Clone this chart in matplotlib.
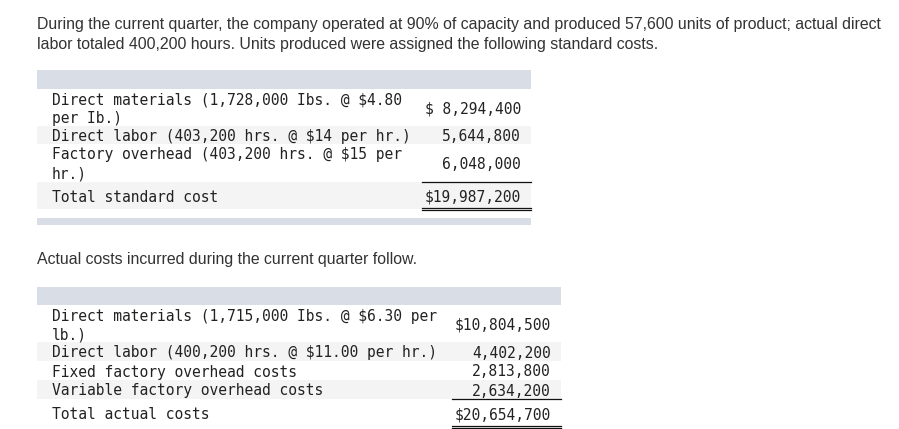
import matplotlib.pyplot as plt
from matplotlib.patches import Rectangle

# --------------------------
# TEXT + DATA
# --------------------------
intro_lines = [
    "During the current quarter, the company operated at 90% of capacity and produced 57,600 units of product; actual direct",
    "labor totaled 400,200 hours. Units produced were assigned the following standard costs.",
]
middle_line = "Actual costs incurred during the current quarter follow."

std_labels = [
    "Direct materials (1,728,000 Ibs. @ $4.80\nper Ib.)",
    "Direct labor (403,200 hrs. @ $14 per hr.)",
    "Factory overhead (403,200 hrs. @ $15 per\nhr.)",
    "Total standard cost",
]
std_costs = [8294400, 5644800, 6048000, 19987200]
std_dollar = [True, False, False, True]

act_labels = [
    "Direct materials (1,715,000 Ibs. @ $6.30 per\nlb.)",
    "Direct labor (400,200 hrs. @ $11.00 per hr.)",
    "Fixed factory overhead costs",
    "Variable factory overhead costs",
    "Total actual costs",
]
act_costs = [10804500, 4402200, 2813800, 2634200, 20654700]
act_dollar = [True, False, False, False, True]

# --------------------------
# STYLE
# --------------------------
HEAD_BG = "#d9dde6"
ROW_BG = "#f4f4f4"
TXT = "#222222"
MONO = "DejaVu Sans Mono"
MONO_SIZE = 10.55
LINE_PITCH = 18.6
DY = 1.5  # small nudge so text centres match the reference


def fmt(v, dollar):
    s = f"{v:,}"
    if dollar:
        return "$" + s.rjust(10)
    return s


def draw_table(ax, labels, costs, dollars, head_top, head_bot, edges,
               x0, x1, value_x, rule_x0, bottom_bar=None):
    ax.add_patch(Rectangle((x0, head_top), x1 - x0, head_bot - head_top,
                           facecolor=HEAD_BG, edgecolor="none"))
    for i, (lab, val, dl) in enumerate(zip(labels, costs, dollars)):
        top, bot = edges[i], edges[i + 1]
        if i % 2 == 1:
            ax.add_patch(Rectangle((x0, top), x1 - x0, bot - top,
                                   facecolor=ROW_BG, edgecolor="none"))
        lines = lab.split("\n")
        if i == len(labels) - 1:
            y_lines = [(top + bot) / 2 + DY]
        else:
            y_lines = [top + 9.5 + DY + k * LINE_PITCH for k in range(len(lines))]
        for ln, y in zip(lines, y_lines):
            ax.text(52, y, ln, family=MONO, fontsize=MONO_SIZE, color=TXT,
                    ha="left", va="center")
        ax.text(value_x, (top + bot) / 2 + DY, fmt(val, dl), family=MONO,
                fontsize=MONO_SIZE, color=TXT, ha="right", va="center")
    # single rule above total, double rule below total
    ax.plot([rule_x0, x1], [edges[-2], edges[-2]], color="#111111", lw=0.9)
    ax.plot([rule_x0, x1], [edges[-1] - 1.5, edges[-1] - 1.5], color="#111111", lw=0.9)
    ax.plot([rule_x0, x1], [edges[-1] + 0.5, edges[-1] + 0.5], color="#111111", lw=0.9)
    if bottom_bar is not None:
        ax.add_patch(Rectangle((x0, bottom_bar[0]), x1 - x0,
                               bottom_bar[1] - bottom_bar[0],
                               facecolor=HEAD_BG, edgecolor="none"))


fig = plt.figure(figsize=(8.99, 4.29), dpi=100)
ax = fig.add_axes([0, 0, 1, 1])
ax.set_xlim(0, 899)
ax.set_ylim(429, 0)
ax.axis("off")

# intro paragraph
for ln, y in zip(intro_lines, [29, 49]):
    ax.text(37, y, ln, family="Liberation Sans", fontsize=11.4, color="#333333",
            ha="left", va="baseline")

# standard cost table
draw_table(ax, std_labels, std_costs, std_dollar, 70, 89,
           [89, 126, 144, 182, 209], 37, 531, 521, 422, bottom_bar=(218, 225))

ax.text(37, 264, middle_line, family="Liberation Sans", fontsize=11.4,
        color="#333333", ha="left", va="baseline")

# actual cost table
draw_table(ax, act_labels, act_costs, act_dollar, 287, 305,
           [305, 342, 361, 380, 399, 427], 37, 561, 551, 452)

fig.savefig("out.png", dpi=100)
